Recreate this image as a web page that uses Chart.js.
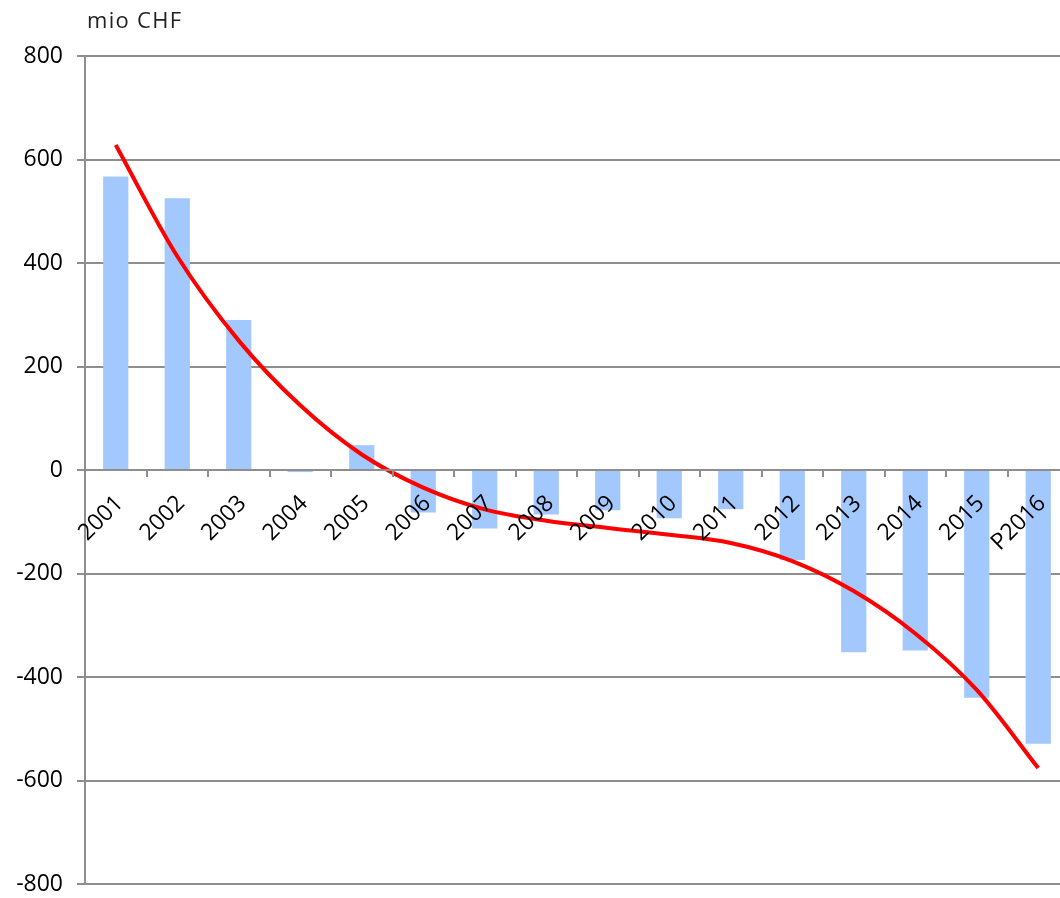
<!DOCTYPE html>
<html><head><meta charset="utf-8">
<script src="https://cdn.jsdelivr.net/npm/chart.js@4/dist/chart.umd.min.js"></script>
<style>
html,body{margin:0;padding:0;background:#fff;overflow:hidden;}
#wrap{position:relative;width:1060px;height:898px;overflow:hidden;}
#unit{position:absolute;left:87px;top:4px;font-family:'Open Sans';font-size:22px;line-height:30px;letter-spacing:1.3px;color:#222;}
canvas{position:absolute;left:0;top:0;}
</style></head><body>
<div id="wrap"><canvas id="c" width="1069" height="898"></canvas><div id="unit">mio CHF</div></div>
<script>
const categories = ['2001','2002','2003','2004','2005','2006','2007','2008','2009','2010','2011','2012','2013','2014','2015','P2016'];
const balance = [567, 525, 290, -4, 48, -82, -113, -86, -78, -93, -76, -174, -352, -349, -440, -529];
const trend = [628, 413, 250, 125, 30, -34, -76, -98, -112, -125, -141, -176, -234, -316, -425, -576];
const yMin = -800, yMax = 800, yStep = 200;
const unitLabel = 'mio CHF';

const gridColor = '#8E8E8E';
new Chart(document.getElementById('c'), {
  data: {
    labels: categories,
    datasets: [
      { type: 'line', data: trend, borderColor: '#FF0000', borderWidth: 4, pointRadius: 0,
        cubicInterpolationMode: 'monotone', fill: false, order: 0 },
      { type: 'bar', data: balance, backgroundColor: '#A2C8FE', borderWidth: 0,
        categoryPercentage: 1, barPercentage: 0.41, order: 1 }
    ]
  },
  options: {
    responsive: false,
    animation: false,
    layout: { padding: { top: 56, bottom: 14, right: 0, left: 0 } },
    plugins: { legend: { display: false }, tooltip: { enabled: false }, title: { display: false } },
    scales: {
      x: {
        position: { y: 0 },
        offset: true,
        afterFit: s => { s.height = 0; s.paddingLeft = 0; s.paddingRight = 0; s.paddingTop = 0; s.paddingBottom = 0; },
        grid: { drawOnChartArea: false, drawTicks: true, tickLength: 6, color: gridColor, lineWidth: 2, offset: true, z: 1 },
        border: { display: true, color: gridColor, width: 2, z: 1 },
        ticks: { maxRotation: 45, minRotation: 45, padding: 14, labelOffset: 4, color: '#000', z: 2,
                 font: { family: 'Open Sans', size: 23 } }
      },
      y: {
        min: yMin, max: yMax,
        afterFit: s => { s.width = 85; s.paddingTop = 0; s.paddingBottom = 0; },
        grid: { color: gridColor, lineWidth: 2, tickLength: 8 },
        border: { display: true, color: gridColor, width: 2 },
        ticks: { stepSize: yStep, padding: 14, color: '#000', font: { family: 'Open Sans', size: 23 } }
      }
    }
  }
});
</script>
</body></html>
